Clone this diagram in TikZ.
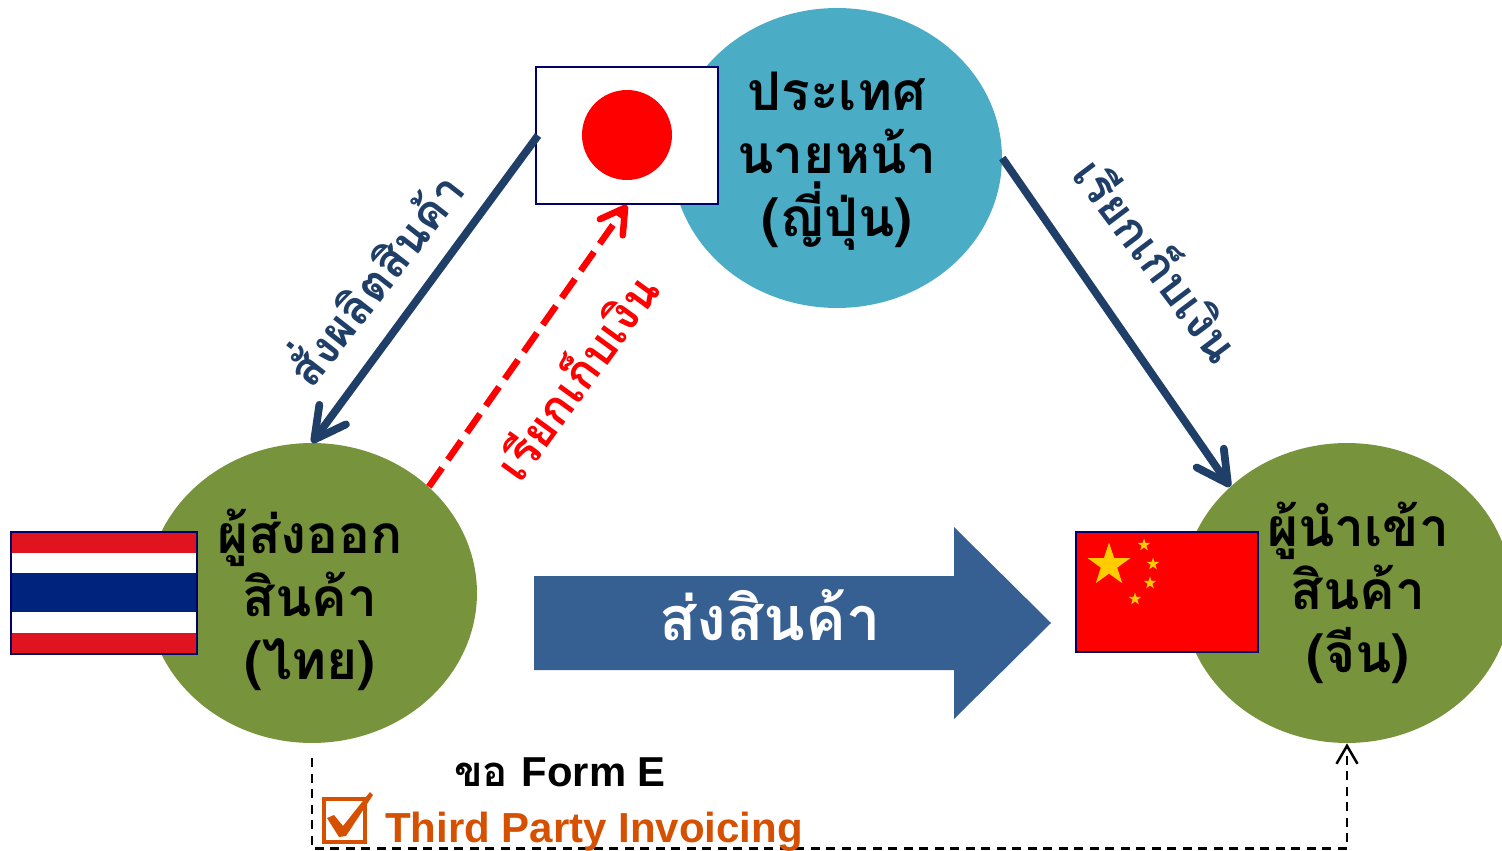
\documentclass[tikz,border=0pt]{standalone}
\usepackage{fontspec}
\setmainfont[Script=Thai]{Loma}
\newfontfamily\latinfont{Liberation Sans}
\usetikzlibrary{arrows.meta,shapes.geometric}
\definecolor{navyline}{HTML}{1F3F68}
\definecolor{bluearrow}{HTML}{376092}
\definecolor{tealfill}{HTML}{4BACC6}
\definecolor{greenfill}{HTML}{77933C}
\definecolor{orangetext}{HTML}{D55000}
\definecolor{flagred}{HTML}{E0141E}
\definecolor{flagblue}{HTML}{00247D}
\definecolor{flagedge}{HTML}{000066}
\definecolor{stargold}{HTML}{FFCC00}
\tikzset{
    party/.style={ellipse, minimum width=6.6cm, minimum height=6cm, inner sep=0pt},
    partytext/.style={align=center, font=\fontsize{30.3}{36}\selectfont\bfseries},
    flagbox/.style={draw=flagedge, line width=0.04cm, inner sep=0pt},
    bigstar/.style={star, star points=5, star point ratio=2.6, fill=stargold, inner sep=0pt, minimum size=0.9cm},
    smallstar/.style={star, star points=5, star point ratio=2.6, fill=stargold, inner sep=0pt, minimum size=0.26cm},
    order/.style={draw=navyline, line width=0.155cm, -{Straight Barb[length=0.62cm,width=0.66cm,round]}},
    diagtext/.style={font=\fontsize{26.4}{30}\selectfont\bfseries}
}

\begin{document}
\begin{tikzpicture}[x=0.02cm, y=-0.02cm]
    \useasboundingbox (0,0) rectangle (1502,851);

    \node[party, fill=tealfill] (broker) at (837,158) {};
    \node[party, fill=greenfill] (exporter) at (312,593) {};
    \node[party, fill=greenfill] (importer) at (1347,593) {};

    % flags
    \node[flagbox, fill=white, minimum width=3.64cm, minimum height=2.74cm] (jpflag) at (627,135.5) {};
    \node[circle, fill=red, minimum size=1.8cm, inner sep=0pt] (jpsun) at (627,135) {};

    \fill[flagred] (11,532) rectangle (197,654);
    \fill[white] (11,553) rectangle (197,633);
    \fill[flagblue] (11,573) rectangle (197,612);
    \node[flagbox, minimum width=3.72cm, minimum height=2.44cm] (thflag) at (104,593) {};

    \node[flagbox, fill=red, minimum width=3.64cm, minimum height=2.4cm] (cnflag) at (1167,592) {};
    \node[bigstar] (cnstar) at (1109,565) {};
    \node[smallstar] (cnstara) at (1144,545) {};
    \node[smallstar] (cnstarb) at (1153,564) {};
    \node[smallstar] (cnstarc) at (1150,583) {};
    \node[smallstar] (cnstard) at (1135,599) {};

    % party labels
    \node[partytext] (brokertext) at (837,161) {ประเทศ\\นายหน้า\\(ญี่ปุ่น)};
    \node[partytext] (exportertext) at (310,600) {ผู้ส่งออก\\สินค้า\\(ไทย)};
    \node[partytext] (importertext) at (1358,593) {ผู้นำเข้า\\สินค้า\\(จีน)};

    % shipment
    \fill[bluearrow] (534,576) -- (954,576) -- (954,527) -- (1051,623) -- (954,719) -- (954,670) -- (534,670) -- cycle;
    \node[text=white, font=\fontsize{34.8}{40}\selectfont\bfseries] (shiptext) at (770,615) {ส่งสินค้า};

    % flows
    \draw[order] ([xshift=0.06cm]jpflag.west) -- (exporter.north);
    \draw[order] (broker.east) -- (importer.north west);
    \draw[red, line width=0.13cm, dash pattern=on 0.46cm off 0.2cm, -{Straight Barb[length=0.48cm,width=0.56cm,round]}] (exporter.north east) -- (jpflag.south);

    \node[diagtext, text=navyline, rotate=52] (ordertext) at (371,276) {สั่งผลิตสินค้า};
    \node[diagtext, text=navyline, rotate=-53] (billtext) at (1160,258) {เรียกเก็บเงิน};
    \node[diagtext, text=red, rotate=54] (redtext) at (574,375) {เรียกเก็บเงิน};

    % form E
    \draw[line width=0.05cm, dash pattern=on 0.18cm off 0.13cm, -{Straight Barb[length=0.36cm,width=0.42cm]}] ([yshift=-0.3cm]exporter.south) -- ++(0,90) -| (importer.south);
    \node[font=\fontsize{23.8}{28}\selectfont\bfseries] (formtext) at (560,772) {ขอ {\latinfont Form E}};
    \node[font=\fontsize{23.9}{28}\selectfont\bfseries\latinfont, text=orangetext, anchor=west] (tpitext) at (379,832) {Third Party Invoicing};
    \node[draw=orangetext, line width=0.095cm, minimum width=0.82cm, minimum height=0.86cm, inner sep=0pt] (tickbox) at (344.5,820.5) {};
    \fill[orangetext] (327,818) -- (334,815) -- (343,826) -- (370,792) -- (373,795) -- (346,836) -- (339,837) -- cycle;
\end{tikzpicture}
\end{document}
